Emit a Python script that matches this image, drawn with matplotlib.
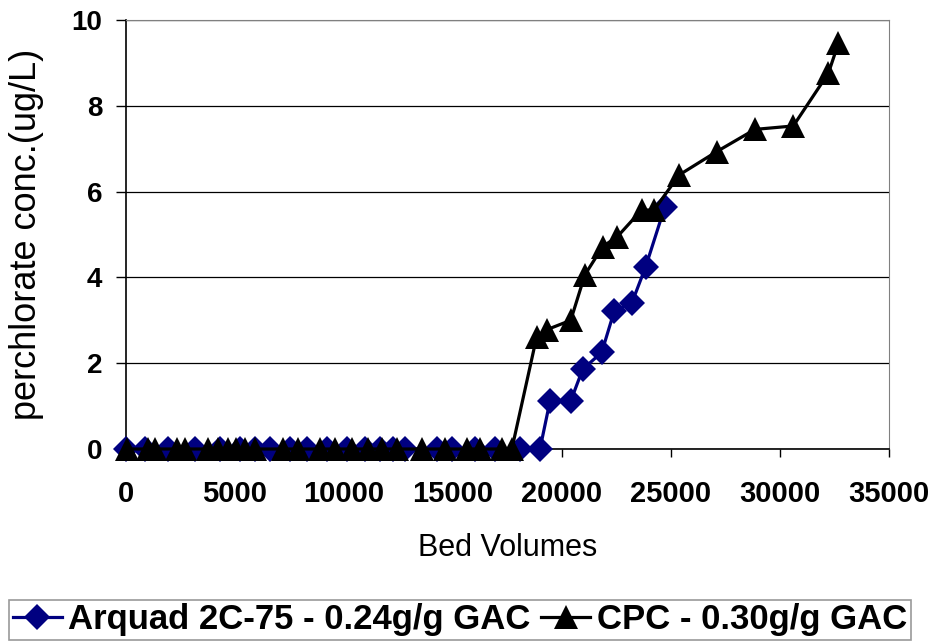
import matplotlib
matplotlib.use("Agg")
import matplotlib.pyplot as plt

# Arquad 2C-75 - 0.24g/g GAC
arquad_bv = [0, 870, 1930, 3170, 4310, 5230, 5920, 6610, 7520, 8300, 9220,
             10140, 10960, 11650, 12250, 12800, 14270, 14950, 16010, 16930,
             18070, 18990, 19450, 20400, 20950, 21820, 22400, 23200, 23840,
             24720]
arquad_conc = [0, 0, 0, 0, 0, 0, 0, 0, 0, 0, 0,
               0, 0, 0, 0, 0, 0, 0, 0, 0,
               0, 0, 1.12, 1.12, 1.86, 2.25, 3.22, 3.40, 4.25,
               5.65]

# CPC - 0.30g/g GAC
cpc_bv = [50, 1000, 1330, 2340, 2700, 3760, 4220, 4680, 5050, 5460, 5920,
          7200, 7890, 8900, 9590, 10370, 11100, 11740, 12430, 13580, 14630,
          15640, 16240, 17250, 17700, 18840, 19300, 20400, 21050, 21870,
          22540, 23650, 24220, 25380, 27090, 28850, 30610, 32220, 32680]
cpc_conc = [0, 0, 0, 0, 0, 0, 0, 0, 0, 0, 0,
            0, 0, 0, 0, 0, 0, 0, 0, 0, 0,
            0, 0, 0, 0, 2.62, 2.78, 3.0, 4.06, 4.72,
            4.95, 5.57, 5.57, 6.39, 6.93, 7.45, 7.53, 8.76, 9.46]

x_ticks = [0, 5000, 10000, 15000, 20000, 25000, 30000, 35000]
y_ticks = [0, 2, 4, 6, 8, 10]

plt.rcParams['font.family'] = ['Liberation Sans', 'DejaVu Sans']

fig = plt.figure(figsize=(9.33, 6.43), dpi=100)
ax = fig.add_axes([126 / 933, 1 - 449 / 643, (889 - 126) / 933, (449 - 20) / 643])

# horizontal gridlines
ax.grid(True, axis='y', color='black', linewidth=0.9, zorder=0)
ax.set_axisbelow(True)

ax.plot(arquad_bv, arquad_conc, color='#000080', linewidth=2.3, marker='D',
        markersize=13, markeredgewidth=0, clip_on=False, zorder=3,
        label='Arquad 2C-75 - 0.24g/g GAC')
ax.plot(cpc_bv, cpc_conc, color='black', linewidth=2.3, marker='^',
        markersize=17, markeredgewidth=0, clip_on=False, zorder=4,
        label='CPC - 0.30g/g GAC')

ax.set_xlim(0, 35000)
ax.set_ylim(0, 10)
ax.set_xticks(x_ticks)
ax.set_yticks(y_ticks)
ax.set_xticklabels([str(v) for v in x_ticks], fontsize=21, fontweight='bold')
ax.set_yticklabels([str(v) for v in y_ticks], fontsize=20, fontweight='bold')
ax.tick_params(axis='x', direction='out', length=6, width=1, pad=16)
ax.tick_params(axis='y', direction='out', length=7, width=1, pad=10)

for side in ['top', 'right']:
    ax.spines[side].set_color('#808080')
for side in ['left', 'bottom']:
    ax.spines[side].set_color('black')
    ax.spines[side].set_linewidth(1.2)

ax.set_ylabel('perchlorate conc.(ug/L)', fontsize=26)
ax.yaxis.set_label_coords(-0.107, 0.5)
ax.set_xlabel('Bed Volumes', fontsize=22)
ax.xaxis.set_label_coords(0.5, -0.195)

leg = fig.legend(loc='lower center', bbox_to_anchor=(460 / 933, 0.0), ncol=2,
                 prop={'size': 25, 'weight': 'bold'}, frameon=True,
                 fancybox=False, edgecolor='#808080', handlelength=1.4,
                 handletextpad=0.2, columnspacing=0.3, borderpad=0.1,
                 borderaxespad=0.1, numpoints=1)
leg.get_frame().set_linewidth(1.2)

fig.savefig('out.png', dpi=100, facecolor='white')
